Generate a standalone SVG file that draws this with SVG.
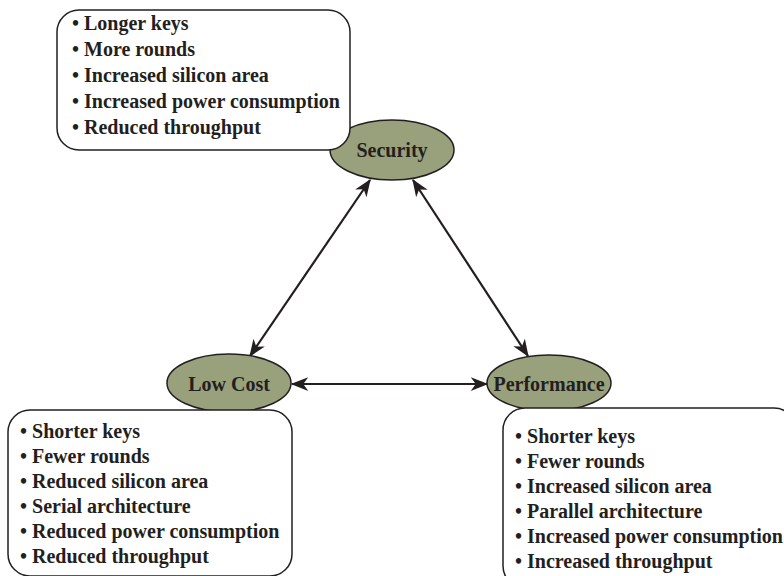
<svg xmlns="http://www.w3.org/2000/svg" width="784" height="576" viewBox="0 0 784 576">
<style>
.node ellipse{fill:#98a07c;stroke:#231f20;stroke-width:1.5}
.box{fill:#fff;stroke:#231f20;stroke-width:1.5}
text{font-family:"Liberation Serif","Times New Roman",serif;font-weight:bold;font-size:20px;fill:#231f20}
.lbl{text-anchor:middle}
.conn line{stroke:#231f20;stroke-width:2.2;marker-start:url(#ah);marker-end:url(#ah)}
</style>
<defs>
<marker id="ah" markerUnits="userSpaceOnUse" markerWidth="20" markerHeight="20" viewBox="-14 -7 16 14" refX="0" refY="0" orient="auto-start-reverse">
<path d="M1,0 L-13,-5.5 L-9,0 L-13,5.5 Z" fill="#231f20"/>
</marker>
</defs>
<rect width="784" height="576" fill="#fff"/>
<g class="conn" id="connectors">
<line x1="250" y1="356" x2="370" y2="180"/>
<line x1="413" y1="180" x2="528" y2="356"/>
<line x1="292" y1="384" x2="487" y2="384"/>
</g>
<g class="node" id="security">
<ellipse cx="392" cy="150" rx="62" ry="30"/>
<text class="lbl" x="392" y="157">Security</text>
</g>
<g class="node" id="lowcost">
<ellipse cx="229" cy="383" rx="62" ry="29"/>
<text class="lbl" x="229" y="391">Low Cost</text>
</g>
<g class="node" id="performance">
<ellipse cx="549" cy="383" rx="62" ry="28"/>
<text class="lbl" x="549" y="391">Performance</text>
</g>
<g id="security-box">
<rect class="box" x="57" y="10" width="293" height="140" rx="22" ry="22"/>
<text x="72" y="30">• Longer keys</text>
<text x="72" y="56">• More rounds</text>
<text x="72" y="82">• Increased silicon area</text>
<text x="72" y="108">• Increased power consumption</text>
<text x="72" y="134">• Reduced throughput</text>
</g>
<g id="lowcost-box">
<rect class="box" x="8" y="410" width="284" height="166" rx="22" ry="22"/>
<text x="20" y="438">• Shorter keys</text>
<text x="20" y="463">• Fewer rounds</text>
<text x="20" y="488">• Reduced silicon area</text>
<text x="20" y="513">• Serial architecture</text>
<text x="20" y="538">• Reduced power consumption</text>
<text x="20" y="563">• Reduced throughput</text>
</g>
<g id="performance-box">
<rect class="box" x="503" y="408" width="293" height="180" rx="22" ry="22"/>
<text x="515" y="443">• Shorter keys</text>
<text x="515" y="468">• Fewer rounds</text>
<text x="515" y="493">• Increased silicon area</text>
<text x="515" y="518">• Parallel architecture</text>
<text x="515" y="543">• Increased power consumption</text>
<text x="515" y="568">• Increased throughput</text>
</g>
</svg>
